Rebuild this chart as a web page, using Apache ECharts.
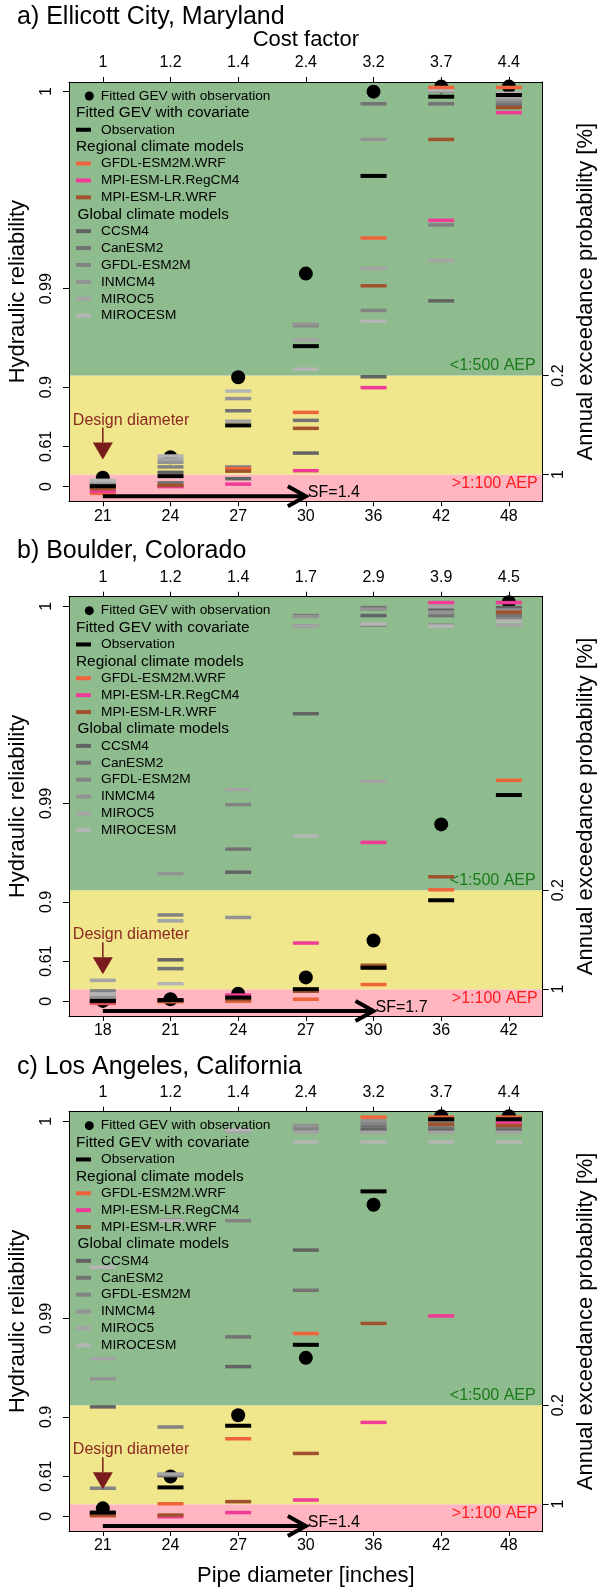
<!DOCTYPE html>
<html><head><meta charset="utf-8">
<script src="https://cdn.jsdelivr.net/npm/echarts@6/dist/echarts.min.js"></script>
<style>html,body{margin:0;padding:0;background:#fff}#c{width:597px;height:1591px}</style>
</head><body><div id="c"></div>
<script>
// ---- axes / categories ----
const diamA = ['21','24','27','30','36','42','48'];
const diamB = ['18','21','24','27','30','36','42'];
const diamC = ['21','24','27','30','36','42','48'];
const costA = ['1','1.2','1.4','2.4','3.2','3.7','4.4'];
const costB = ['1','1.2','1.4','1.7','2.9','3.9','4.5'];
const costC = ['1','1.2','1.4','2.4','3.2','3.7','4.4'];
// reliability axis is a transformed scale: position 0 (bottom) .. 100 (top)
const relTickPos = [3.5, 13.1, 27.2, 50.7, 97.7];
const relTickLabels = ['0','0.61','0.9','0.99','1'];
const aepTickPos = [30.0, 6.4];
const aepTickLabels = ['0.2','1'];
const bandEdges = [0, 6.4, 30.0, 100];
const titles = ['a) Ellicott City, Maryland','b) Boulder, Colorado','c) Los Angeles, California'];
const sfEndIndex = [3, 4, 3];
const sfLabels = ['SF=1.4','SF=1.7','SF=1.4'];

// ---- values (positions on the transformed reliability scale) ----
// Panel a
const dotA      = [5.6, 10.5, 29.6, 54.3, 97.7, 98.9, 98.9];
const obsA      = [3.6, 6.0, 18.1, 37.0, 77.6, 96.5, 96.9];
const gfdlWrfA  = [1.9, 3.6, 7.8, 21.2, 62.8, 98.7, 98.7];
const regcmA    = [2.4, 3.5, 4.1, 7.3, 27.1, 67.0, 92.7];
const mpiWrfA   = [3.0, 3.8, 7.2, 17.4, 51.4, 86.3, 93.9];
const ccsm4A    = [3.3, 6.9, 5.4, 11.5, 29.7, 47.8, 94.3];
const canesm2A  = [3.9, 4.4, 21.6, 19.3, 94.8, 94.8, 94.8];
const gfdlEsmA  = [4.2, 8.2, 8.2, 41.9, 45.5, 65.9, 95.3];
const inmcm4A   = [4.5, 9.3, 24.5, 42.2, 86.3, 97.8, 95.8];
const miroc5A   = [4.8, 10.0, 19.1, 38.4, 55.5, 57.4, 96.3];
const mirocesmA = [5.0, 10.8, 26.3, 31.5, 42.9, 98.1, 97.3];
// Panel b
const dotB      = [3.6, 4.0, 5.3, 9.2, 18.0, 45.7, 98.7];
const obsB      = [3.6, 3.8, 4.4, 6.4, 11.5, 27.6, 52.7];
const gfdlWrfB  = [3.0, 3.4, 3.5, 4.0, 7.5, 30.1, 56.2];
const regcmB    = [3.2, 3.7, 5.0, 17.4, 41.4, 98.6, 98.6];
const mpiWrfB   = [3.4, 3.6, 3.9, 5.9, 12.1, 33.2, 96.3];
const ccsm4B    = [4.0, 13.4, 34.3, 72.1, 95.5, 97.1, 97.4];
const canesm2B  = [5.0, 11.3, 39.8, 95.5, 97.4, 95.5, 95.5];
const gfdlEsmB  = [6.0, 24.1, 50.4, 93.0, 93.2, 93.2, 94.7];
const inmcm4B   = [4.5, 33.9, 23.5, 95.3, 97.0, 96.2, 96.8];
const miroc5B   = [8.5, 22.7, 54.0, 93.0, 56.0, 97.6, 93.2];
const mirocesmB = [5.2, 7.7, 4.2, 42.9, 93.5, 93.0, 94.2];
// Panel c
const dotC      = [5.4, 13.0, 27.6, 41.3, 77.8, 98.9, 98.9];
const obsC      = [4.4, 10.4, 25.1, 44.4, 81.0, 98.2, 98.2];
const gfdlWrfC  = [3.6, 6.5, 22.0, 47.1, 98.7, 98.7, 98.7];
const regcmC    = [3.9, 3.4, 4.4, 7.4, 25.9, 51.3, 97.3];
const mpiWrfC   = [3.8, 3.8, 7.0, 18.5, 49.5, 97.0, 96.7];
const ccsm4C    = [29.6, 13.4, 39.2, 67.0, 95.7, 95.7, 95.7];
const canesm2C  = [4.2, 13.2, 46.3, 57.4, 96.5, 96.3, 96.3];
const gfdlEsmC  = [10.2, 24.8, 74.0, 95.9, 97.3, 97.5, 97.5];
const inmcm4C   = [36.3, 74.2, 95.5, 96.7, 97.9, 96.9, 96.9];
const miroc5C   = [41.1, 13.6, 95.3, 95.1, 95.1, 95.1, 95.1];
const mirocesmC = [62.9, 74.0, 95.7, 92.8, 92.8, 92.8, 92.8];

// ---- styles ----
const FONT = '"Liberation Sans", Arial, Helvetica, sans-serif';
const DOT_NAME = 'Fitted GEV with observation';
const OBS = {name:'Observation', color:'#000000'};
const RCMS = [
  {name:'GFDL-ESM2M.WRF', color:'#f0643c'},
  {name:'MPI-ESM-LR.RegCM4', color:'#f03c96'},
  {name:'MPI-ESM-LR.WRF', color:'#a0522d'}
];
const GCMS = [
  {name:'CCSM4', color:'#636363'},
  {name:'CanESM2', color:'#737373'},
  {name:'GFDL-ESM2M', color:'#838383'},
  {name:'INMCM4', color:'#939393'},
  {name:'MIROC5', color:'#a4a4a4'},
  {name:'MIROCESM', color:'#b5b5b5'}
];
const panels = [
  {diam:diamA, cost:costA, dot:dotA, obs:obsA, rcm:[gfdlWrfA,regcmA,mpiWrfA], gcm:[ccsm4A,canesm2A,gfdlEsmA,inmcm4A,miroc5A,mirocesmA]},
  {diam:diamB, cost:costB, dot:dotB, obs:obsB, rcm:[gfdlWrfB,regcmB,mpiWrfB], gcm:[ccsm4B,canesm2B,gfdlEsmB,inmcm4B,miroc5B,mirocesmB]},
  {diam:diamC, cost:costC, dot:dotC, obs:obsC, rcm:[gfdlWrfC,regcmC,mpiWrfC], gcm:[ccsm4C,canesm2C,gfdlEsmC,inmcm4C,miroc5C,mirocesmC]}
];
const PLOT_LEFT = 69, PLOT_W = 473.7, PLOT_H = 419.3;
const panelTops = [82, 596.7, 1111.7];
const titleTops = [5, 538.5, 1054.5];
const DESIGN_COLOR = '#8b2a20';

const chart = echarts.init(document.getElementById('c'), null, {renderer:'canvas'});
const grid = [], xAxis = [], yAxis = [], series = [], legend = [], title = [], graphic = [];
const toPts = arr => arr.map((v, i) => [i, v]);
const labelOf = (pos, labels) => v => { const k = pos.findIndex(p => Math.abs(p - v) < 1e-6); return k < 0 ? '' : labels[k]; };

panels.forEach((P, p) => {
  const top = panelTops[p], d = top - panelTops[0];
  grid.push({left:PLOT_LEFT, top:top, width:PLOT_W, height:PLOT_H, containLabel:false, outerBoundsMode:'none', show:false});
  const axLine = {show:true, onZero:false, lineStyle:{color:'#000', width:1}};
  xAxis.push({type:'category', gridIndex:p, data:P.diam, position:'bottom', boundaryGap:true, z:10,
    axisLine:axLine, axisTick:{show:true, alignWithLabel:true, length:5, lineStyle:{color:'#000'}},
    axisLabel:{fontSize:16, color:'#000', margin:7, fontFamily:FONT, interval:0}, splitLine:{show:false},
    name: p === 2 ? 'Pipe diameter [inches]' : '', nameLocation:'middle', nameGap:34,
    nameTextStyle:{fontSize:22, color:'#000', fontFamily:FONT}});
  xAxis.push({type:'category', gridIndex:p, data:P.cost, position:'top', boundaryGap:true, z:10,
    axisLine:axLine, axisTick:{show:true, alignWithLabel:true, length:5, lineStyle:{color:'#000'}},
    axisLabel:{fontSize:16, color:'#000', margin:11, fontFamily:FONT, interval:0}, splitLine:{show:false},
    name: p === 0 ? 'Cost factor' : '', nameLocation:'middle', nameGap:31,
    nameTextStyle:{fontSize:22, color:'#000', fontFamily:FONT}});
  yAxis.push({type:'value', gridIndex:p, min:0, max:100, position:'left', z:10,
    axisLine:axLine, axisTick:{show:true, customValues:relTickPos, length:6, lineStyle:{color:'#000'}},
    axisLabel:{customValues:relTickPos, formatter:labelOf(relTickPos, relTickLabels), rotate:90, fontSize:16, color:'#000', margin:14, fontFamily:FONT},
    splitLine:{show:false}, name:'Hydraulic reliability', nameLocation:'middle', nameRotate:90, nameGap:40,
    nameTextStyle:{fontSize:22, color:'#000', fontFamily:FONT}});
  yAxis.push({type:'value', gridIndex:p, min:0, max:100, position:'right', z:10,
    axisLine:axLine, axisTick:{show:true, customValues:aepTickPos, length:6, lineStyle:{color:'#000'}},
    axisLabel:{customValues:aepTickPos, formatter:labelOf(aepTickPos, aepTickLabels), rotate:90, fontSize:16, color:'#000', margin:8, fontFamily:FONT},
    splitLine:{show:false}, name:'Annual exceedance probability [%]', nameLocation:'middle', nameRotate:90, nameGap:31,
    nameTextStyle:{fontSize:22, color:'#000', fontFamily:FONT}});
  const xi = p * 2, yi = p * 2;
  // background bands
  series.push({type:'scatter', name:'bands' + p, xAxisIndex:xi, yAxisIndex:yi, data:[], silent:true,
    markArea:{silent:true, data:[
      [{yAxis:bandEdges[0], itemStyle:{color:'#ffb6c1', opacity:1},
        label:{show:true, position:'insideTopRight', distance:0, offset:[-5,1], formatter:'>1:100 AEP', color:'#ff1c1c', fontSize:16, fontFamily:FONT}},
       {yAxis:bandEdges[1]}],
      [{yAxis:bandEdges[1], itemStyle:{color:'#f0e68c', opacity:1}, label:{show:false}}, {yAxis:bandEdges[2]}],
      [{yAxis:bandEdges[2], itemStyle:{color:'#8fbc8f', opacity:1},
        label:{show:true, position:'insideBottomRight', distance:2, offset:[-5,0], formatter:'<1:500 AEP', color:'#1a7a1a', fontSize:16, fontFamily:FONT}},
       {yAxis:bandEdges[3]}]
    ]}});
  series.push({type:'scatter', name:DOT_NAME, xAxisIndex:xi, yAxisIndex:yi, data:toPts(P.dot),
    symbol:'circle', symbolSize:14, itemStyle:{color:'#000', opacity:1}});
  GCMS.forEach((m, k) => series.push({type:'scatter', name:m.name, xAxisIndex:xi, yAxisIndex:yi, data:toPts(P.gcm[k]),
    symbol:'rect', symbolSize:[26,3.5], itemStyle:{color:m.color, opacity:1}}));
  RCMS.forEach((m, k) => series.push({type:'scatter', name:m.name, xAxisIndex:xi, yAxisIndex:yi, data:toPts(P.rcm[k]),
    symbol:'rect', symbolSize:[26,3.5], itemStyle:{color:m.color, opacity:1}}));
  series.push({type:'scatter', name:OBS.name, xAxisIndex:xi, yAxisIndex:yi, data:toPts(P.obs),
    symbol:'rect', symbolSize:[26,4], itemStyle:{color:OBS.color, opacity:1}});
  // annotations: design diameter arrow + safety factor arrow
  const endIdx = sfEndIndex[p], sfText = sfLabels[p];
  series.push({type:'custom', name:'annot' + p, xAxisIndex:xi, yAxisIndex:yi, silent:true, z:6, clip:false,
    data:[[0, 0]],
    renderItem:(params, api) => {
      const a0 = api.coord([0, 1.2]), a1 = api.coord([endIdx, 1.2]);
      const tx = api.coord([endIdx, 2.0]);
      const dt = api.coord([0, 19.3]), l0 = api.coord([0, 17.6]), l1 = api.coord([0, 14.0]), tip = api.coord([0, 9.95]);
      return {type:'group', children:[
        {type:'line', shape:{x1:a0[0], y1:a0[1], x2:a1[0]-3, y2:a1[1]}, style:{stroke:'#000', lineWidth:4}},
        {type:'polyline', shape:{points:[[a1[0]-18, a1[1]-10],[a1[0], a1[1]],[a1[0]-18, a1[1]+10]]}, style:{stroke:'#000', lineWidth:4, fill:null}},
        {type:'text', x:tx[0]+2, y:tx[1], style:{text:sfText, fontSize:16, fontFamily:FONT, fill:'#000', verticalAlign:'middle', align:'left'}},
        {type:'text', x:dt[0]-30, y:dt[1], style:{text:'Design diameter', fontSize:16, fontFamily:FONT, fill:DESIGN_COLOR, verticalAlign:'middle', align:'left'}},
        {type:'line', shape:{x1:l0[0], y1:l0[1], x2:l1[0], y2:l1[1]}, style:{stroke:'#7a1c1c', lineWidth:1.5}},
        {type:'polygon', shape:{points:[[l1[0]-10, l1[1]],[l1[0]+10, l1[1]],[tip[0], tip[1]]]}, style:{fill:'#7a1c1c'}}
      ]};
    }});
  // legend
  const lt = {fontSize:13.7, lineHeight:16.9, color:'#000', fontFamily:FONT};
  legend.push({data:[DOT_NAME], left:84.8, top:87.5 + d, orient:'vertical', icon:'circle', itemWidth:9, itemHeight:9,
    padding:0, itemGap:0, selectedMode:false, textStyle:Object.assign({padding:[0,0,0,2]}, lt)});
  legend.push({data:[OBS.name], left:76, top:121.3 + d, orient:'vertical', icon:'rect', itemWidth:15, itemHeight:4,
    padding:0, itemGap:0, selectedMode:false, textStyle:Object.assign({padding:[0,0,0,5]}, lt)});
  legend.push({data:RCMS.map(m => m.name), left:76, top:155.1 + d, orient:'vertical', icon:'rect', itemWidth:15, itemHeight:4,
    padding:0, itemGap:0, selectedMode:false, textStyle:Object.assign({padding:[0,0,0,5]}, lt)});
  legend.push({data:GCMS.map(m => m.name), left:76, top:222.7 + d, orient:'vertical', icon:'rect', itemWidth:15, itemHeight:4,
    padding:0, itemGap:0, selectedMode:false, textStyle:Object.assign({padding:[0,0,0,5]}, lt)});
  [['Fitted GEV with covariate', 76, 112.9], ['Regional climate models', 76, 146.7], ['Global climate models', 77.5, 214.3]]
    .forEach(h => graphic.push({type:'text', x:h[1], y:h[2] + d, z:100,
      style:{text:h[0], fontSize:15.4, fontFamily:FONT, fill:'#000', verticalAlign:'middle', align:'left'}}));
  title.push({text:titles[p], left:17, top:titleTops[p], padding:0,
    textStyle:{fontSize:25, fontWeight:'normal', color:'#000', fontFamily:FONT}});
});

chart.setOption({
  animation:false, backgroundColor:'#fff', textStyle:{fontFamily:FONT},
  title, grid, xAxis, yAxis, series, legend, graphic, tooltip:{show:false}
});
</script></body></html>
